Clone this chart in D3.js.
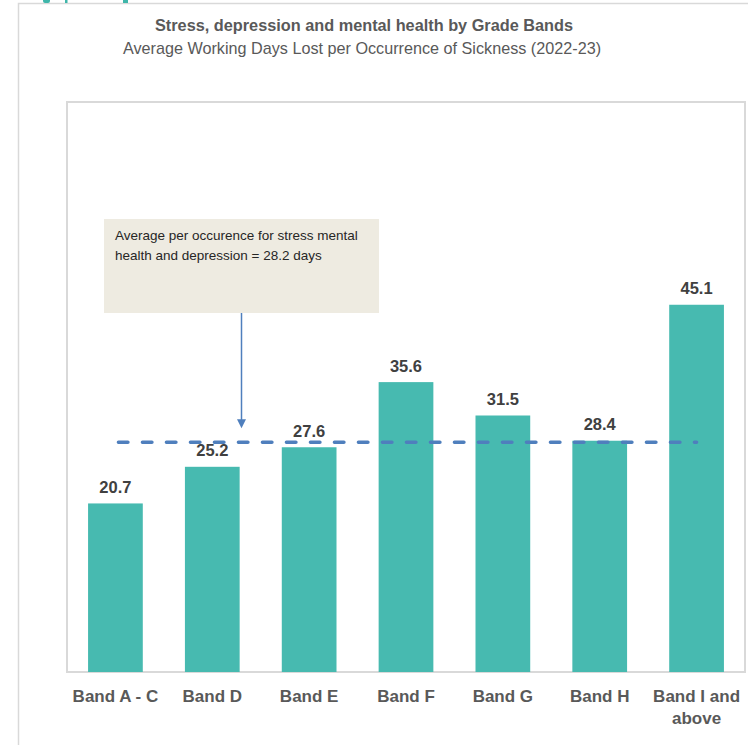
<!DOCTYPE html>
<html>
<head>
<meta charset="utf-8">
<script src="https://cdn.jsdelivr.net/npm/d3@7"></script>
<style>
  body { margin: 0; background: #fff; }
  text { font-family: "Liberation Sans", Arial, sans-serif; }
</style>
</head>
<body>
<script>
// chart data
const categories = ["Band A - C", "Band D", "Band E", "Band F", "Band G", "Band H", "Band I and above"];
const daysLost = [20.7, 25.2, 27.6, 35.6, 31.5, 28.4, 45.1];
const averageDays = 28.2;
const noteLines = ["Average per occurence for stress mental", "health and depression = 28.2 days"];

const width = 748, height = 745;
const plot = { left: 67, right: 745, top: 102, bottom: 672 };

const svg = d3.select("body").append("svg")
    .attr("width", width)
    .attr("height", height);

// outer frame (cropped from the source)
svg.append("path")
    .attr("d", `M18.5,${height} V3.5 H${width}`)
    .attr("fill", "none")
    .attr("stroke", "#d9d9d9")
    .attr("stroke-width", 1.5);

// bits of a logo cut off at the top edge
svg.append("path")
    .attr("d", "M43,0 H50 V1 Q50,3 48,3 H45 Q43,3 43,1 Z")
    .attr("fill", "#3fb6aa");
svg.append("rect").attr("x", 65).attr("y", 0).attr("width", 2.5).attr("height", 3).attr("fill", "#3fb6aa");
svg.append("rect").attr("x", 123).attr("y", 0).attr("width", 5).attr("height", 3).attr("fill", "#3fb6aa");

// titles
svg.append("text")
    .attr("x", 364).attr("y", 30.5)
    .attr("text-anchor", "middle")
    .attr("font-size", 16.3)
    .attr("font-weight", "bold")
    .attr("fill", "#595959")
    .text("Stress, depression and mental health by Grade Bands");

svg.append("text")
    .attr("x", 362).attr("y", 54)
    .attr("text-anchor", "middle")
    .attr("font-size", 16.2)
    .attr("fill", "#595959")
    .text("Average Working Days Lost per Occurrence of Sickness (2022-23)");

// scales
let x = d3.scaleBand()
    .domain(categories)
    .range([plot.left, plot.right])
    .paddingInner(0.435)
    .paddingOuter(0.2175);

let y = d3.scaleLinear()
    .domain([0, 70])
    .range([plot.bottom, plot.top]);

// plot area border
svg.append("rect")
    .attr("x", plot.left)
    .attr("y", plot.top)
    .attr("width", plot.right - plot.left)
    .attr("height", plot.bottom - plot.top)
    .attr("fill", "none")
    .attr("stroke", "#d9d9d9")
    .attr("stroke-width", 2);

// bars
svg.append("g")
    .selectAll("rect")
    .data(daysLost)
    .enter().append("rect")
    .attr("x", (d, i) => x(categories[i]))
    .attr("y", d => y(d))
    .attr("width", x.bandwidth())
    .attr("height", d => y(0) - y(d))
    .attr("fill", "#47bab0");

// value labels
svg.append("g")
    .selectAll("text")
    .data(daysLost)
    .enter().append("text")
    .attr("x", (d, i) => x(categories[i]) + x.bandwidth() / 2)
    .attr("y", d => y(d) - 10.5)
    .attr("text-anchor", "middle")
    .attr("font-size", 16.5)
    .attr("font-weight", "bold")
    .attr("fill", "#404040")
    .text(d => d.toFixed(1));

// x axis labels (no axis line, just text)
let xAxis = d3.axisBottom(x).tickSize(0).tickPadding(0);
let axisG = svg.append("g")
    .attr("transform", `translate(0,${plot.bottom})`)
    .call(xAxis);
axisG.select(".domain").remove();
axisG.selectAll("text")
    .attr("font-family", "'Liberation Sans', Arial, sans-serif")
    .attr("font-size", 17)
    .attr("font-weight", "bold")
    .attr("fill", "#595959")
    .attr("dy", null)
    .attr("y", 30)
    .each(function (d) {
        const t = d3.select(this);
        if (d === "Band I and above") {
            t.text(null);
            t.append("tspan").attr("x", 0).attr("y", 30).text("Band I and");
            t.append("tspan").attr("x", 0).attr("y", 52).text("above");
        }
    });

// average dashed line
svg.append("line")
    .attr("x1", x(categories[0]) + x.bandwidth() / 2 + 3)
    .attr("x2", x(categories[categories.length - 1]) + x.bandwidth() / 2)
    .attr("y1", y(averageDays))
    .attr("y2", y(averageDays))
    .attr("stroke", "#4f7fbd")
    .attr("stroke-width", 3.5)
    .attr("stroke-linecap", "round")
    .attr("stroke-dasharray", "9.5 14.5");

// annotation box
const note = { x: 104, y: 219, w: 275, h: 94 };
svg.append("rect")
    .attr("x", note.x).attr("y", note.y)
    .attr("width", note.w).attr("height", note.h)
    .attr("fill", "#eeebe1");

svg.append("g")
    .selectAll("text")
    .data(noteLines)
    .enter().append("text")
    .attr("x", note.x + 11)
    .attr("y", (d, i) => note.y + 21 + i * 20)
    .attr("font-family", "Lato, 'Open Sans', sans-serif")
    .attr("font-size", 13.5)
    .attr("fill", "#262626")
    .text(d => d);

// arrow from the note down to the average line
const arrowX = 241.5;
const tipY = y(averageDays) - 14;
svg.append("line")
    .attr("x1", arrowX).attr("x2", arrowX)
    .attr("y1", note.y + note.h).attr("y2", tipY - 8)
    .attr("stroke", "#4f7fbd")
    .attr("stroke-width", 1.5);
svg.append("path")
    .attr("d", `M${arrowX - 4.5},${tipY - 9} L${arrowX + 4.5},${tipY - 9} L${arrowX},${tipY} Z`)
    .attr("fill", "#4f7fbd");
</script>
</body>
</html>
